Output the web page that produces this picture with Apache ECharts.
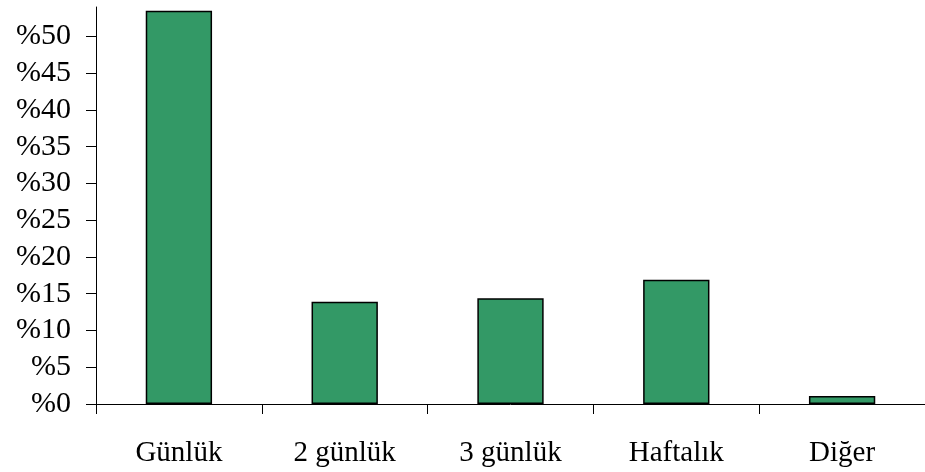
<!DOCTYPE html>
<html>
<head>
<meta charset="utf-8">
<script src="https://cdn.jsdelivr.net/npm/echarts@6/dist/echarts.min.js"></script>
<style>
  html, body { margin: 0; padding: 0; background: #ffffff; }
  #chart { width: 925px; height: 472px; }
</style>
</head>
<body>
<div id="chart"></div>
<script>
// Share of respondents by frequency (percent)
const categories = ['Günlük', '2 günlük', '3 günlük', 'Haftalık', 'Diğer'];
const shares = [53.5, 13.9, 14.4, 16.9, 1.1];
const yTicks = [0, 5, 10, 15, 20, 25, 30, 35, 40, 45, 50];

const FONT = '"Liberation Serif", "Times New Roman", serif';

const chart = echarts.init(document.getElementById('chart'), null, { renderer: 'canvas' });

chart.setOption({
  animation: false,
  backgroundColor: '#ffffff',
  grid: { left: 96, right: -6, top: 7, bottom: 68, containLabel: false },
  xAxis: {
    type: 'category',
    data: categories,
    boundaryGap: true,
    axisLine: { show: true, lineStyle: { color: '#000', width: 1 } },
    axisTick: { show: true, length: 10, alignWithLabel: false, lineStyle: { color: '#000', width: 1 } },
    axisLabel: { color: '#000', fontFamily: FONT, fontSize: 29, margin: 35 },
    splitLine: { show: false }
  },
  yAxis: {
    type: 'value',
    min: 0,
    max: 54,
    axisLine: { show: true, lineStyle: { color: '#000', width: 1 } },
    axisTick: { show: true, length: 10, customValues: yTicks, lineStyle: { color: '#000', width: 1 } },
    axisLabel: {
      color: '#000', fontFamily: FONT, fontSize: 30, margin: 25,
      customValues: yTicks,
      formatter: v => '%' + v
    },
    splitLine: { show: false }
  },
  series: [{
    type: 'bar',
    data: shares,
    barWidth: '40%',
    itemStyle: { color: '#339966', borderColor: '#000', borderWidth: 1.5 }
  }]
});
</script>
</body>
</html>
